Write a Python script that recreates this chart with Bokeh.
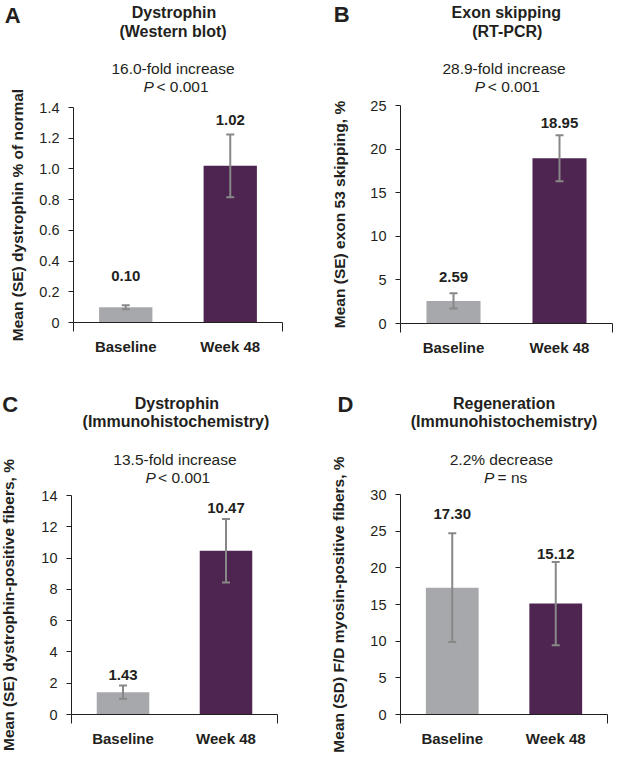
import math
from bokeh.plotting import figure
from bokeh.models import Range1d, FixedTicker, Whisker, TeeHead, ColumnDataSource, LinearAxis
from bokeh.layouts import row, column
from bokeh.embed import file_html
from bokeh.resources import INLINE
from bokeh.core.properties import value

# ---------------- data ----------------
categories = ["Baseline", "Week 48"]
bar_colors = ["#A7A8AB", "#4E2550"]

a_mean = [0.10, 1.02]
a_err = [0.013, 0.205]
a_label_y = [0.30, 1.32]
a_ticks = [0, 0.2, 0.4, 0.6, 0.8, 1.0, 1.2, 1.4]
a_tick_labels = ["0", "0.2", "0.4", "0.6", "0.8", "1.0", "1.2", "1.4"]

b_mean = [2.59, 18.95]
b_err = [0.87, 2.65]
b_label_y = [5.33, 22.98]
b_ticks = [0, 5, 10, 15, 20, 25]
b_tick_labels = ["0", "5", "10", "15", "20", "25"]

c_mean = [1.43, 10.47]
c_err = [0.42, 2.03]
c_label_y = [2.51, 13.17]
c_ticks = [0, 2, 4, 6, 8, 10, 12, 14]
c_tick_labels = ["0", "2", "4", "6", "8", "10", "12", "14"]

d_mean = [17.30, 15.12]
d_err = [7.40, 5.68]
d_label_y = [27.3, 21.83]
d_ticks = [0, 5, 10, 15, 20, 25, 30]
d_tick_labels = ["0", "5", "10", "15", "20", "25", "30"]

FONT = "Liberation Sans"
INK = "#231F20"
ERR = "#888888"
SX = 0.9746
SY = 0.9792


def make_panel(geom, letter, title1, title2, sub1, p_rest, ylabel, ylab_x,
               means, errs, label_y, ticks, tick_labels, texts):
    W, H, L, R, T, B, ox, oy = geom
    n = len(categories)
    ymin, ymax = ticks[0], ticks[-1]
    span = ymax - ymin
    fw = R - L
    fh = B - T
    xs = [i + 0.5 for i in range(n)]
    x_range = Range1d((0 - L) / fw * n, (W - L) / fw * n)
    y_range = Range1d(ymin - (H - B) / fh * span, ymax + T / fh * span)
    p = figure(width=W, height=H, x_range=x_range, y_range=y_range,
               output_backend="svg", toolbar_location=None,
               x_axis_type=None, y_axis_type=None, min_border=0)
    p.outline_line_color = None
    p.background_fill_color = "white"
    p.border_fill_color = "white"

    src = ColumnDataSource(dict(x=xs, top=means, color=bar_colors,
                                upper=[m + e for m, e in zip(means, errs)],
                                lower=[m - e for m, e in zip(means, errs)],
                                ly=label_y, txt=[f"{m:.2f}" for m in means]))
    p.vbar(x="x", top="top", width=0.51, color="color", line_color=None, source=src)
    wh = Whisker(base="x", upper="upper", lower="lower", source=src, line_color=ERR, line_width=2,
                 upper_head=TeeHead(size=8, line_color=ERR, line_width=2),
                 lower_head=TeeHead(size=8, line_color=ERR, line_width=2), level="annotation")
    p.add_layout(wh)
    p.text(x="x", y="ly", text="txt", source=src, text_font=value(FONT), text_font_style="bold",
           text_font_size="15px", text_color=INK, text_align="center", text_baseline="middle")

    yax = LinearAxis(ticker=FixedTicker(ticks=ticks, minor_ticks=[]),
                     major_label_overrides=dict(zip(ticks, tick_labels)),
                     fixed_location=0, bounds=(ymin, ymax))
    yax.axis_line_color = INK
    yax.major_tick_line_color = INK
    yax.major_tick_out = 5
    yax.major_tick_in = 0
    yax.minor_tick_line_color = None
    yax.major_label_text_font = FONT
    yax.major_label_text_font_size = "14.5px"
    yax.major_label_text_color = INK
    yax.major_label_standoff = 9
    p.add_layout(yax, "left")

    xax = LinearAxis(ticker=FixedTicker(ticks=xs, minor_ticks=[0, n]),
                     major_label_overrides=dict(zip(xs, categories)),
                     fixed_location=ymin, bounds=(0, n))
    xax.axis_line_color = INK
    xax.major_tick_line_color = None
    xax.major_tick_out = 0
    xax.major_tick_in = 0
    xax.minor_tick_line_color = INK
    xax.minor_tick_out = 9
    xax.minor_tick_in = 0
    xax.major_label_text_font = FONT
    xax.major_label_text_font_style = "bold"
    xax.major_label_text_font_size = "15px"
    xax.major_label_text_color = INK
    xax.major_label_standoff = 6
    p.add_layout(xax, "below")

    def to_data(refx, refy):
        px = (refx - ox) * SX - L
        py = B - (refy - oy) * SY
        return px / fw * n, ymin + py / fh * span

    def lab(refx, refy, text, size="15.5px", style="normal", align="center", angle=0.0):
        dx, dy = to_data(refx, refy)
        p.text(x=[dx], y=[dy], text=[text], angle=angle, text_font=value(FONT),
               text_font_size=size, text_font_style=style, text_color=INK,
               text_align=align, text_baseline="middle")

    (lx_, ly_), (t1x, t1y), (t2x, t2y), (s1x, s1y), (pR, pL, s2y) = texts
    lab(lx_, ly_, letter, size="22px", style="bold")
    lab(t1x, t1y, title1, size="16px", style="bold")
    lab(t2x, t2y, title2, size="16px", style="bold")
    lab(s1x, s1y, sub1)
    lab(pR, s2y, "P", style="italic", align="right")
    lab(pL, s2y, p_rest, align="left")
    # y-axis title, centred on the axis extent
    yc_ref = oy + ((T + B) / 2) / SY
    lab(ylab_x, yc_ref, ylabel, size="15.5px", style="bold", angle=math.pi / 2)
    return p


# geometry: width, height, frame left, frame right, frame top, frame bottom (local px), ref origin
pa = make_panel((306, 376, 73, 282, 107, 322, 0, 0), "A", "Dystrophin", "(Western blot)",
                "16.0-fold increase", "< 0.001", "Mean (SE) dystrophin % of normal", 17,
                a_mean, a_err, a_label_y, a_ticks, a_tick_labels,
                [(12.5, 15), (178, 12.5), (177, 31.7), (177, 69), (157.3, 160, 87.5)])
pb = make_panel((307, 376, 94, 306, 105, 323, 314, 0), "B", "Exon skipping", "(RT-PCR)",
                "28.9-fold increase", "< 0.001", "Mean (SE) exon 53 skipping, %", 348,
                b_mean, b_err, b_label_y, b_ticks, b_tick_labels,
                [(350, 14), (519, 12.5), (520, 31.7), (516.7, 69), (497.3, 500, 87.5)])
pc = make_panel((306, 377, 71, 277, 119, 338, 0, 384), "C", "Dystrophin", "(Immunohistochemistry)",
                "13.5-fold increase", "< 0.001", "Mean (SE) dystrophin-positive fibers, %", 8,
                c_mean, c_err, c_label_y, c_ticks, c_tick_labels,
                [(10, 412.5), (181, 411.7), (180, 430), (179, 469), (159.3, 161.7, 487)])
pd = make_panel((307, 377, 94, 301, 118, 338, 314, 384), "D", "Regeneration", "(Immunohistochemistry)",
                "2.2% decrease", "= ns", "Mean (SD) F/D myosin-positive fibers, %", 347,
                d_mean, d_err, d_label_y, d_ticks, d_tick_labels,
                [(354, 413), (516.7, 411.7), (516.7, 429.5), (514, 469), (506.7, 510, 487)])

layout = column(row(pa, pb), row(pc, pd))
open("out.html", "w").write(file_html(layout, INLINE))
